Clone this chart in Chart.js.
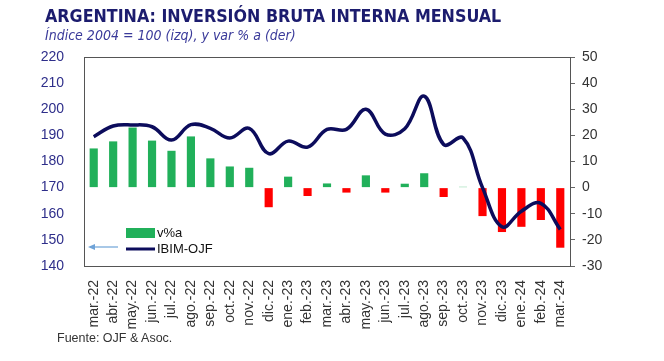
<!DOCTYPE html>
<html>
<head>
<meta charset="utf-8">
<script src="https://cdn.jsdelivr.net/npm/chart.js@4.4.0/dist/chart.umd.min.js"></script>
<style>
  html, body { margin: 0; padding: 0; background: #fff; }
  #wrap { position: relative; width: 664px; height: 361px; overflow: hidden; }
  #c { position: absolute; left: 0; top: 0; }
  .title { position: absolute; left: 45px; top: 6px; font-family: "DejaVu Sans Condensed", "DejaVu Sans", sans-serif; font-weight: bold; font-size: 17.7px; color: #1c1c6e; white-space: nowrap; }
  .sub { position: absolute; left: 45px; top: 27px; font-family: "DejaVu Sans Condensed", "DejaVu Sans", sans-serif; font-style: italic; font-size: 14px; color: #3a3a9a; white-space: nowrap; }
  .src { position: absolute; left: 57px; top: 331px; font-family: "Liberation Sans", Arial, sans-serif; font-size: 12.5px; color: #333; white-space: nowrap; }
</style>
</head>
<body>
<div id="wrap">
  <canvas id="c" width="664" height="361"></canvas>
  <div class="title">ARGENTINA: INVERSIÓN BRUTA INTERNA MENSUAL</div>
  <div class="sub">Índice 2004 = 100 (izq), y var % a (der)</div>
  <div class="src">Fuente: OJF &amp; Asoc.</div>
</div>
<script>
var months = ["mar.-22", "abr.-22", "may.-22", "jun.-22", "jul.-22", "ago.-22", "sep.-22", "oct.-22", "nov.-22", "dic.-22",
              "ene.-23", "feb.-23", "mar.-23", "abr.-23", "may.-23", "jun.-23", "jul.-23", "ago.-23", "sep.-23", "oct.-23",
              "nov.-23", "dic.-23", "ene.-24", "feb.-24", "mar.-24"];
// IBIM-OJF index (left axis)
var ibim = [189.5, 193.6, 194, 193.3, 188.2, 194.1, 192.7, 189, 192.7, 183,
            187.8, 185.5, 192.3, 192.3, 200, 190.5, 192.5, 205, 186.5, 189,
            170, 155, 161, 164, 154];
// var % a (right axis)
var varA = [15, 17.7, 23, 18, 14.1, 19.6, 11.2, 8.1, 7.6, -7.5,
            4.2, -3.2, 1.6, -1.9, 4.7, -1.9, 1.5, 5.5, -3.6, 0.3,
            -10.9, -17, -15, -12.4, -23];
var leftTicks = [140, 150, 160, 170, 180, 190, 200, 210, 220];
var rightTicks = [-30, -20, -10, 0, 10, 20, 30, 40, 50];

var navy = "#0c0c5c";
var green = "#21b05a";
var red = "#ff0000";

var overlay = {
  id: "overlay",
  beforeDatasetsDraw: function (chart) {
    var a = chart.chartArea, ctx = chart.ctx;
    ctx.save();
    ctx.strokeStyle = "#555";
    ctx.lineWidth = 1;
    ctx.strokeRect(a.left + 0.5, a.top + 0.5, a.right - a.left, a.bottom - a.top);
    ctx.restore();
  },
  afterDraw: function (chart) {
    var ctx = chart.ctx;
    ctx.save();
    // legend
    ctx.fillStyle = green;
    ctx.fillRect(126, 228, 29, 10);
    ctx.strokeStyle = navy;
    ctx.lineWidth = 3;
    ctx.beginPath();
    ctx.moveTo(126, 249);
    ctx.lineTo(155, 249);
    ctx.stroke();
    ctx.fillStyle = "#111";
    ctx.font = "13px 'Liberation Sans', Arial, sans-serif";
    ctx.textBaseline = "middle";
    ctx.fillText("v%a", 157, 233);
    ctx.fillText("IBIM-OJF", 157, 249);
    // arrow pointing to left axis
    ctx.strokeStyle = "#6fa3d8";
    ctx.fillStyle = "#6fa3d8";
    ctx.lineWidth = 1.2;
    ctx.beginPath();
    ctx.moveTo(118, 247);
    ctx.lineTo(92, 247);
    ctx.stroke();
    ctx.beginPath();
    ctx.moveTo(88, 247);
    ctx.lineTo(95, 244);
    ctx.lineTo(95, 250);
    ctx.closePath();
    ctx.fill();
    ctx.restore();
  }
};

new Chart(document.getElementById("c"), {
  data: {
    labels: months,
    datasets: [{
      type: "line",
      label: "IBIM-OJF",
      data: ibim,
      yAxisID: "y",
      borderColor: navy,
      borderWidth: 3.5,
      pointRadius: 0,
      tension: 0.4,
      fill: false,
      order: 0
    }, {
      type: "bar",
      label: "v%a",
      data: varA,
      yAxisID: "y1",
      backgroundColor: varA.map(function (v) { return v < 0 ? red : green; }),
      barPercentage: 0.42,
      categoryPercentage: 1,
      order: 1
    }]
  },
  options: {
    responsive: false,
    animation: false,
    layout: { padding: { top: 57, left: 0, right: 0, bottom: 0 } },
    plugins: { legend: { display: false }, tooltip: { enabled: false } },
    scales: {
      x: {
        offset: true,
        grid: { display: false },
        border: { display: false },
        ticks: {
          minRotation: 90, maxRotation: 90, autoSkip: false, padding: 6,
          color: "#333", font: { family: "'Liberation Sans', Arial, sans-serif", size: 14 }
        },
        afterFit: function (s) { s.height = 95; }
      },
      y: {
        position: "left",
        min: 140, max: 220,
        grid: { display: false },
        border: { display: false },
        afterBuildTicks: function (s) { s.ticks = leftTicks.map(function (v) { return { value: v }; }); },
        ticks: {
          padding: 12,
          color: "#2e2e8a",
          font: { family: "'Liberation Sans', Arial, sans-serif", size: 14 }
        },
        afterFit: function (s) { s.width = 84; }
      },
      y1: {
        position: "right",
        min: -30, max: 50,
        grid: { drawOnChartArea: false, drawTicks: true, tickLength: 5, color: "#666" },
        border: { display: false },
        afterBuildTicks: function (s) { s.ticks = rightTicks.map(function (v) { return { value: v }; }); },
        ticks: {
          padding: 7,
          color: "#333",
          font: { family: "'Liberation Sans', Arial, sans-serif", size: 14 }
        },
        afterFit: function (s) { s.width = 94; }
      }
    }
  },
  plugins: [overlay]
});
</script>
</body>
</html>
